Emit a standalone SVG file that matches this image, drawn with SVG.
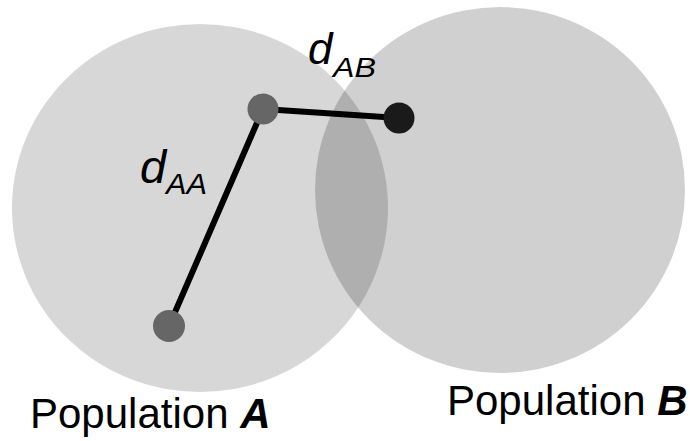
<svg xmlns="http://www.w3.org/2000/svg" width="690" height="441" viewBox="0 0 690 441">
<style>
.pop{fill:#000;fill-opacity:0.155}
.lbl{font-family:"Liberation Sans",Arial,sans-serif;fill:#000}
.it{font-style:italic}
.link{stroke:#000;stroke-width:6;stroke-linecap:round}
</style>
<rect width="690" height="441" fill="#fff"/>
<g id="populationA"><ellipse class="pop" cx="200" cy="208" rx="188" ry="184"/></g>
<g id="populationB"><ellipse class="pop" cx="500" cy="190" rx="185" ry="183" style="fill-opacity:0.184"/></g>
<g id="connectors">
<line class="link" x1="169" y1="326" x2="263" y2="109"/>
<line class="link" x1="263" y1="109" x2="399" y2="118"/>
</g>
<g id="pointA1"><circle cx="263" cy="109" r="15.5" fill="#666"/></g>
<g id="pointA2"><circle cx="169" cy="326" r="16" fill="#666"/></g>
<g id="pointB"><circle cx="399" cy="118" r="15.5" fill="#1a1a1a"/></g>
<g id="labelAB">
<text class="lbl it" x="308" y="64" font-size="44">d</text>
<text class="lbl it" x="333" y="77" font-size="27" textLength="43" lengthAdjust="spacingAndGlyphs">AB</text>
</g>
<g id="labelAA">
<text class="lbl it" x="140" y="183" font-size="47">d</text>
<text class="lbl it" x="166" y="194" font-size="30" textLength="41" lengthAdjust="spacingAndGlyphs">AA</text>
</g>
<g id="captionA"><text class="lbl" x="30" y="428" font-size="42">Population <tspan font-weight="bold" font-style="italic">A</tspan></text></g>
<g id="captionB"><text class="lbl" x="447" y="415" font-size="42">Population <tspan font-weight="bold" font-style="italic">B</tspan></text></g>
</svg>
